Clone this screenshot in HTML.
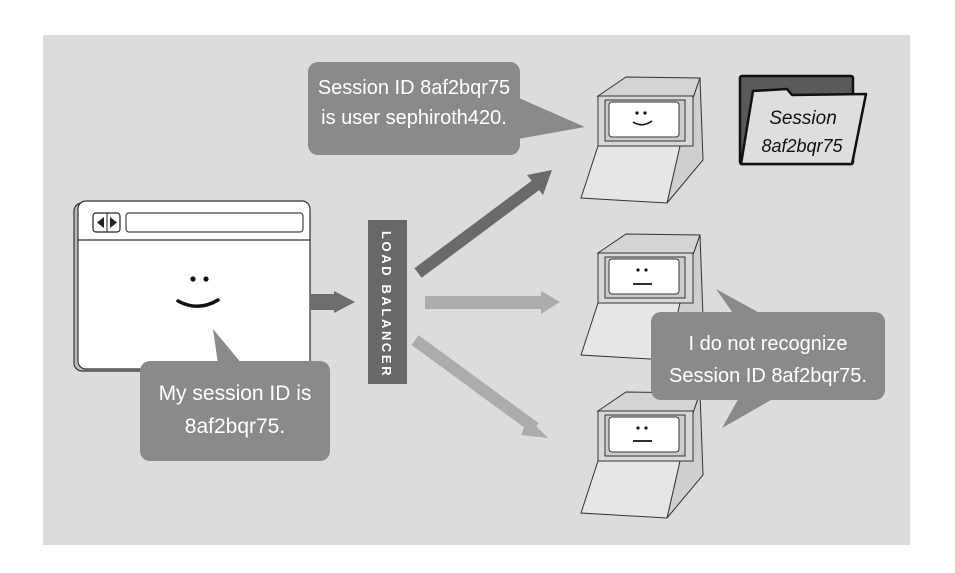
<!DOCTYPE html>
<html><head><style>html,body{margin:0;padding:0;background:#fff}svg{display:block}</style></head><body>
<svg width="955" height="573" viewBox="0 0 955 573" xmlns="http://www.w3.org/2000/svg" font-family="Liberation Sans, sans-serif">
<rect x="0" y="0" width="955" height="573" fill="#fff"/>
<rect x="43" y="35" width="867" height="510" fill="#dcdcdc"/>

<!-- browser -->
<rect x="74" y="203" width="236" height="168" rx="8" fill="#bbb" stroke="#333" stroke-width="1.2"/>
<rect x="78" y="201" width="232" height="168" rx="8" fill="#fff" stroke="#333" stroke-width="1.2"/>
<line x1="78" y1="240" x2="310" y2="240" stroke="#333" stroke-width="1.2"/>
<rect x="93" y="213" width="27" height="19" rx="3" fill="#fff" stroke="#222" stroke-width="1.2"/>
<line x1="107" y1="213" x2="107" y2="232" stroke="#222"/>
<polygon points="104,217 97,222.5 104,228" fill="#222"/><polygon points="110,217 117,222.5 110,228" fill="#222"/>
<rect x="126" y="213" width="177" height="19" rx="3" fill="#fff" stroke="#444" stroke-width="1.2"/>
<circle cx="193" cy="279" r="2.6" fill="#111"/><circle cx="206" cy="279" r="2.6" fill="#111"/>
<path d="M178 301 Q198 312 218 300" fill="none" stroke="#111" stroke-width="3.5" stroke-linecap="round"/>

<!-- bottom-left bubble -->
<polygon points="213,329 218,364 242,364" fill="#8a8a8a"/>
<rect x="140" y="361" width="190" height="100" rx="10" fill="#8a8a8a"/>
<text x="235" y="400" fill="#fff" font-size="21" text-anchor="middle">My session ID is</text>
<text x="235" y="433" fill="#fff" font-size="21" text-anchor="middle">8af2bqr75.</text>

<!-- browser arrow -->
<rect x="310" y="294" width="26" height="16" fill="#6e6e6e"/>
<polygon points="334,291 355,302 334,313" fill="#6e6e6e"/>

<!-- load balancer -->
<rect x="368" y="220" width="39" height="164" fill="#686868"/>
<text transform="translate(382,231) rotate(90)" fill="#fff" font-size="13" font-weight="bold" letter-spacing="2.6">LOAD BALANCER</text>

<!-- arrows -->
<line x1="418" y1="273" x2="540" y2="182" stroke="#6a6a6a" stroke-width="12"/>
<polygon points="552,170 527,175 543,195" fill="#6a6a6a"/>
<rect x="425" y="296" width="118" height="13" fill="#acacac"/>
<polygon points="541,291 560,302 541,314" fill="#acacac"/>
<line x1="415" y1="340" x2="535" y2="428" stroke="#acacac" stroke-width="12"/>
<polygon points="548,438 528,418 521,435" fill="#acacac"/>

<!-- top bubble -->
<polygon points="512,95 585,127 512,140" fill="#8a8a8a"/>
<rect x="308" y="62" width="212" height="93" rx="10" fill="#8a8a8a"/>
<text x="414" y="94" fill="#fff" font-size="20" text-anchor="middle">Session ID 8af2bqr75</text>
<text x="414" y="124" fill="#fff" font-size="20" text-anchor="middle">is user sephiroth420.</text>

<!-- computers -->
<defs>
<g id="pc" stroke="#333" stroke-width="1">
<polygon points="598,96 626,77 700,78 693,98" fill="#d4d4d4"/>
<polygon points="693,98 700,78 703,160 667,203 680,145" fill="#cfcfcf"/>
<rect x="598" y="96" width="95" height="50" fill="#d8d8d8"/>
<polygon points="598,146 680,146 667,203 581,198" fill="#e6e6e6"/>
<rect x="605" y="100" width="80" height="41" fill="#ccc"/>
<rect x="609" y="102" width="70" height="35" rx="3" fill="#fff"/>
</g>
</defs>
<use href="#pc"/>
<circle cx="637" cy="113" r="1.6" fill="#111"/><circle cx="645" cy="113" r="1.6" fill="#111"/>
<path d="M633 122 Q642 128 652 121" fill="none" stroke="#111" stroke-width="1.6"/>
<use href="#pc" transform="translate(0,157)"/>
<circle cx="638" cy="270" r="1.6" fill="#111"/><circle cx="646" cy="270" r="1.6" fill="#111"/>
<line x1="633" y1="284" x2="652" y2="284" stroke="#111" stroke-width="1.8"/>
<use href="#pc" transform="translate(0,315)"/>
<circle cx="638" cy="428" r="1.6" fill="#111"/><circle cx="646" cy="428" r="1.6" fill="#111"/>
<line x1="633" y1="441" x2="652" y2="441" stroke="#111" stroke-width="1.8"/>

<!-- right bubble -->
<polygon points="716,289 735,316 765,316" fill="#8a8a8a"/>
<polygon points="722,428 740,396 778,396" fill="#8a8a8a"/>
<rect x="651" y="312" width="234" height="88" rx="10" fill="#8a8a8a"/>
<text x="768" y="350" fill="#fff" font-size="20" text-anchor="middle">I do not recognize</text>
<text x="768" y="382" fill="#fff" font-size="20" text-anchor="middle">Session ID 8af2bqr75.</text>

<!-- folder -->
<rect x="740" y="76" width="113" height="88" rx="2" fill="#5a5a5a" stroke="#111" stroke-width="2.5"/>
<path d="M753 91 L787 89 L792 95 L866 94 L852 164 L741 164 Z" fill="#dedede" stroke="#111" stroke-width="2.5" stroke-linejoin="round"/>
<text x="803" y="124" fill="#111" font-size="19" font-style="italic" text-anchor="middle">Session</text>
<text x="802" y="152" fill="#111" font-size="18" font-style="italic" text-anchor="middle">8af2bqr75</text>
</svg>
</body></html>
